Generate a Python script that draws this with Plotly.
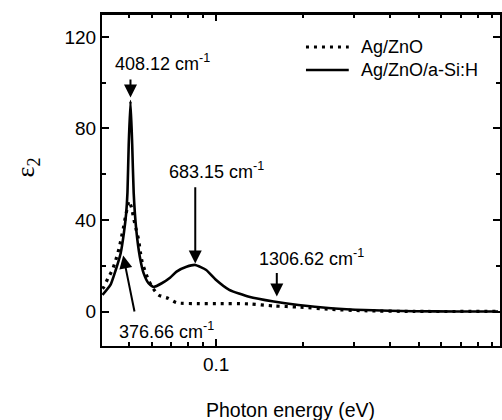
import math
import plotly.graph_objects as go

# Photon energy (eV) and imaginary permittivity for the two stacks
energy_ag_zno = [0.0405, 0.0410, 0.0423, 0.0438, 0.0450, 0.0462, 0.0470, 0.0478,
                 0.0486, 0.0493, 0.0500, 0.0510, 0.0519, 0.0530, 0.0540, 0.0547,
                 0.0555, 0.0569, 0.0584, 0.0600, 0.0632, 0.0684, 0.0730, 0.0877,
                 0.1000, 0.1299, 0.1581, 0.1924, 0.2494, 0.3250, 0.4816, 0.9412]
eps2_ag_zno = [10.0, 10.9, 14.6, 18.2, 22.5, 27.6, 32.0, 36.4,
               41.4, 45.1, 48.3, 45.5, 40.7, 35.6, 31.3, 26.2,
               21.8, 17.5, 13.8, 10.9, 7.3, 5.8, 3.9, 3.5,
               3.5, 3.4, 2.5, 2.0, 1.0, 0.4, 0.1, 0.1]

energy_ag_zno_si = [0.0405, 0.0432, 0.0450, 0.0468, 0.0480, 0.0489, 0.0494, 0.0499,
                    0.0506, 0.0513, 0.0519, 0.0530, 0.0545, 0.0562, 0.0584, 0.0608,
                    0.0649, 0.0693, 0.0730, 0.0790, 0.0847, 0.0924, 0.1000, 0.1110,
                    0.1299, 0.1581, 0.1924, 0.2494, 0.3250, 0.4816, 0.6767, 0.9412]
eps2_ag_zno_si = [7.3, 11.8, 18.2, 25.5, 34.2, 43.0, 52.0, 73.0,
                  92.0, 73.0, 52.0, 35.6, 24.0, 16.7, 12.4, 10.8,
                  12.4, 14.8, 17.5, 19.6, 20.4, 18.2, 13.8, 9.5,
                  6.5, 4.4, 2.9, 1.5, 0.7, 0.2, 0.1, 0.1]

# Labelled phonon modes (cm^-1)
modes_cm = [408.12, 683.15, 1306.62, 376.66]
mode_labels = ["408.12 cm<sup>-1</sup>", "683.15 cm<sup>-1</sup>",
               "1306.62 cm<sup>-1</sup>", "376.66 cm<sup>-1</sup>"]

x_ticks = [0.1]
x_minor = [0.05, 0.06, 0.07, 0.08, 0.09, 0.2, 0.3, 0.4, 0.5, 0.6, 0.7, 0.8, 0.9]
y_ticks = [0, 40, 80, 120]
y_minor = [20, 60, 100]

CM_TO_EV = 1.23984e-4
FONT = "Arial, Liberation Sans, sans-serif"

fig = go.Figure()
fig.add_trace(go.Scatter(
    x=energy_ag_zno, y=eps2_ag_zno, mode="lines", name="Ag/ZnO",
    line=dict(color="black", width=3.2, dash="3px,5px", shape="spline", smoothing=0.6),
    showlegend=False))
fig.add_trace(go.Scatter(
    x=energy_ag_zno_si, y=eps2_ag_zno_si, mode="lines", name="Ag/ZnO/a-Si:H",
    line=dict(color="black", width=2.6, shape="spline", smoothing=0.5),
    showlegend=False))

# Arrows pointing at the modes (tip, tail) in data units
mode_ev = [k * CM_TO_EV for k in modes_cm]
arrows = [
    (mode_ev[0], 93.5, mode_ev[0], 102),
    (mode_ev[1], 21.0, mode_ev[1], 55),
    (mode_ev[2], 6.6, mode_ev[2], 17.5),
    (0.04775, 24.5, 0.05237, -0.6),
]
annotations = []
for (xt, yt, xs, ys) in arrows:
    annotations.append(dict(
        x=math.log10(xt), y=yt, ax=math.log10(xs), ay=ys,
        xref="x", yref="y", axref="x", ayref="y",
        text="", showarrow=True, arrowhead=2, arrowsize=1.3, arrowwidth=2,
        arrowcolor="black", standoff=0))

# Mode labels, placed in paper units (left edge, vertical centre)
label_pos = [(113, 63), (167, 170), (258, 257), (117, 330)]
for txt, (px, py) in zip(mode_labels, label_pos):
    annotations.append(dict(
        x=(px - 102) / 400, y=(346 - py) / 332, xref="paper", yref="paper",
        text=txt, showarrow=False, xanchor="left", yanchor="middle",
        font=dict(family=FONT, size=18, color="black")))

# Axis titles
annotations.append(dict(
    x=(291 - 102) / 400, y=(346 - 410) / 332, xref="paper", yref="paper",
    text="Photon energy (eV)", showarrow=False, xanchor="center", yanchor="middle",
    font=dict(family=FONT, size=19.5, color="black")))
annotations.append(dict(
    x=(27 - 102) / 400, y=(346 - 167) / 332, xref="paper", yref="paper",
    text="ε<sub>2</sub>", showarrow=False, xanchor="center", yanchor="middle",
    textangle=-90, font=dict(family="Times New Roman, Liberation Serif, serif", size=26, color="black")))

# Legend drawn by hand: line samples plus labels
legend_items = [("Ag/ZnO", "3px,5px", 3.2, 47), ("Ag/ZnO/a-Si:H", "solid", 2.6, 70)]
shapes = []
for name, dash, w, py in legend_items:
    yp = (346 - py) / 332
    shapes.append(dict(type="line", xref="paper", yref="paper",
                       x0=(307 - 102) / 400, x1=(350 - 102) / 400, y0=yp, y1=yp,
                       line=dict(color="black", width=w, dash=dash)))
    annotations.append(dict(
        x=(360 - 102) / 400, y=yp, xref="paper", yref="paper", text=name,
        showarrow=False, xanchor="left", yanchor="middle",
        font=dict(family=FONT, size=18, color="black")))

# Top frame edge
shapes.append(dict(type="line", xref="paper", yref="paper", x0=-0.005, x1=1.0, y0=1.0, y1=1.0,
                   line=dict(color="black", width=2)))

fig.update_layout(
    width=502, height=420,
    margin=dict(l=102, r=0, t=14, b=74),
    paper_bgcolor="white", plot_bgcolor="white",
    font=dict(family=FONT, size=19, color="black"),
    annotations=annotations, shapes=shapes,
    xaxis=dict(
        type="log", range=[-1.3942, -0.0196],
        tickvals=x_ticks, ticktext=["0.1"],
        ticks="inside", ticklen=7, tickwidth=2, tickcolor="black",
        minor=dict(tickvals=x_minor, ticks="inside", ticklen=4, tickwidth=2, tickcolor="black"),
        showline=True, linewidth=2, linecolor="black", mirror="ticks",
        showgrid=False, zeroline=False,
        tickfont=dict(family=FONT, size=19)),
    yaxis=dict(
        range=[-15, 130], tickvals=y_ticks,
        ticks="inside", ticklen=7, tickwidth=2, tickcolor="black",
        minor=dict(tickvals=y_minor, ticks="inside", ticklen=4, tickwidth=2, tickcolor="black"),
        showline=True, linewidth=2, linecolor="black", mirror="ticks",
        showgrid=False, zeroline=False,
        tickfont=dict(family=FONT, size=19)),
)

fig.write_html("out.html")
